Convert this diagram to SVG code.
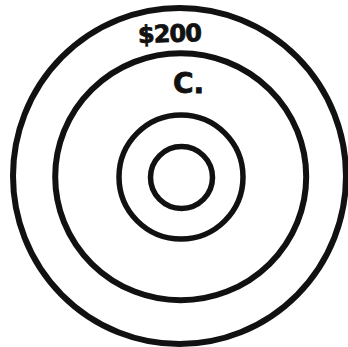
<svg xmlns="http://www.w3.org/2000/svg" width="348" height="347" viewBox="0 0 348 347">
<style>
.ring{fill:none;stroke:#111;stroke-width:6}
.lbl{font-family:"DejaVu Sans","Liberation Sans",sans-serif;font-weight:bold;fill:#111;stroke:#111;stroke-width:0.8}
</style>
<rect width="348" height="347" fill="#fff"/>
<g id="ring-outer"><ellipse class="ring" cx="179.5" cy="176" rx="166.5" ry="168"/></g>
<g id="ring-second"><ellipse class="ring" cx="180.7" cy="176.7" rx="125.5" ry="123.5"/></g>
<g id="ring-third"><circle class="ring" cx="181" cy="177" r="62" style="stroke-width:5.5"/></g>
<g id="ring-inner"><circle class="ring" cx="181.5" cy="177.5" r="31" style="stroke-width:5.5"/></g>
<g id="label-200"><text class="lbl" x="170" y="42" font-size="24" text-anchor="middle" textLength="64" transform="rotate(-2 170 33)">$200</text></g>
<g id="label-c"><text class="lbl" x="173" y="93" font-size="28">C.</text></g>
</svg>
